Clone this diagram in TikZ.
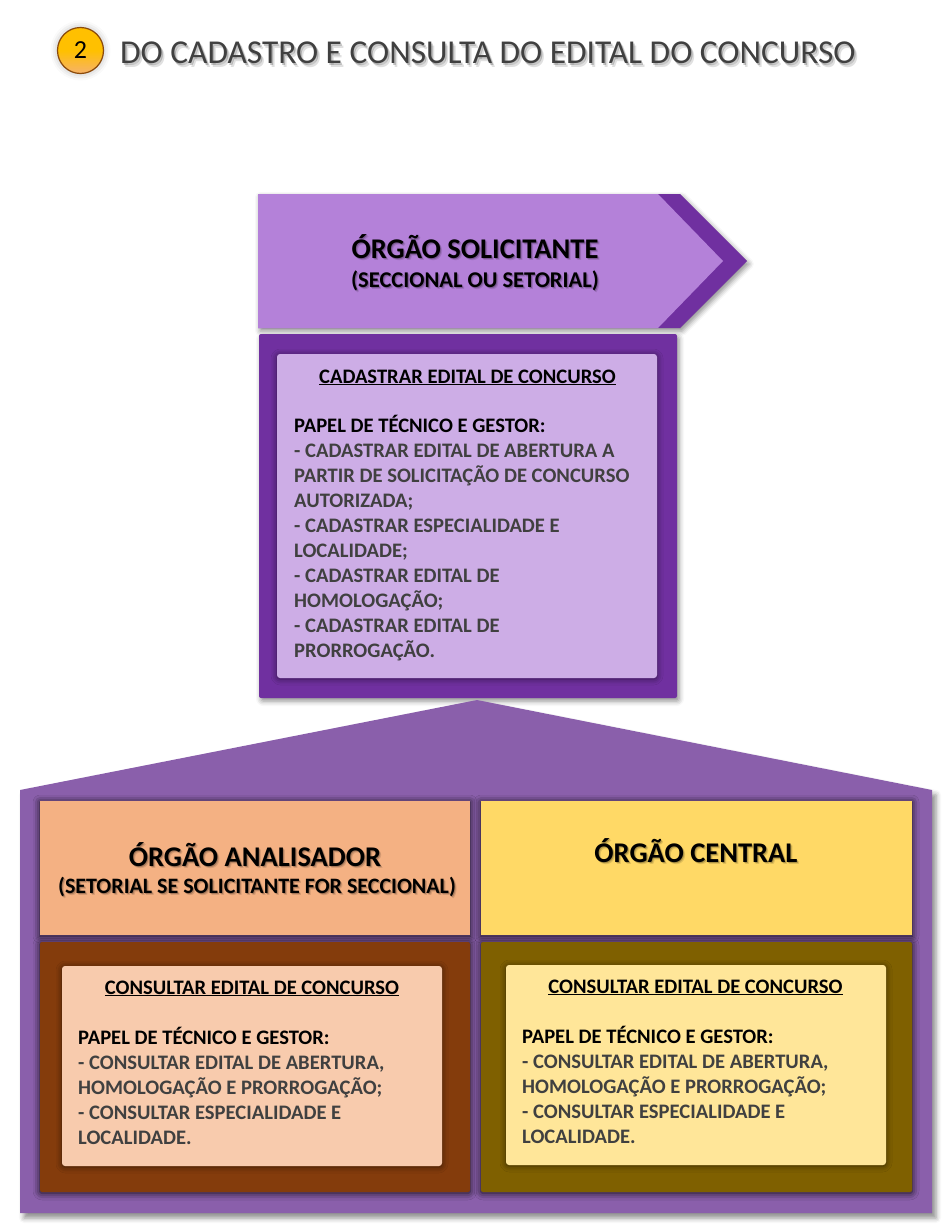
\documentclass[tikz,border=0pt]{standalone}
\usepackage{fontspec}
\setmainfont{Carlito}
\usetikzlibrary{shadows.blur}
\definecolor{pdark}{HTML}{7030A0}
\definecolor{plight}{HTML}{B481D9}
\definecolor{pinner}{HTML}{CDADE6}
\definecolor{house}{HTML}{8A5FAB}
\definecolor{orhdr}{HTML}{F4B183}
\definecolor{yehdr}{HTML}{FFD966}
\definecolor{brownbox}{HTML}{843C0C}
\definecolor{peach}{HTML}{F8CBAD}
\definecolor{olive}{HTML}{7F6000}
\definecolor{lyellow}{HTML}{FFE699}
\definecolor{txtgray}{HTML}{404040}
\definecolor{goldA}{HTML}{FFC000}
\definecolor{goldB}{HTML}{F6B26B}
\definecolor{goldrim}{HTML}{8B4A0B}
\newcommand{\nsp}{\spaceskip=0pt\xspaceskip=0pt\relax}
\begin{document}
\begin{tikzpicture}[x=1pt,y=-1pt,
  bshadow/.style={blur shadow={shadow xshift=2pt,shadow yshift=-3pt,shadow blur radius=5pt,shadow opacity=45}},
  ishadow/.style={blur shadow={shadow xshift=0pt,shadow yshift=-1pt,shadow blur radius=7pt,shadow opacity=90}},
  hdrbig/.style={font=\bfseries\fontsize{28.5}{32}\selectfont,anchor=base,inner sep=0pt},
  hdrsmall/.style={font=\bfseries\fontsize{22.5}{26}\selectfont,anchor=base,inner sep=0pt},
  tshadowA/.style={text=black,opacity=0.22},
  tshadowB/.style={text=black,opacity=0.12},
  boxtitle/.style={font=\bfseries\fontsize{20.6}{25}\selectfont,anchor=base,inner sep=0pt},
  boxbody/.style={font=\bfseries\fontsize{20.6}{25}\selectfont,anchor=base west,inner sep=0pt,text width=372pt,align=flush left,text=txtgray},
]
\useasboundingbox (0,0) rectangle (952,1229);

% ---- title ----
\node[circle,draw=goldrim,line width=1.2pt,top color=goldA,bottom color=goldB,middle color=goldA,minimum size=46pt,inner sep=0pt,
  blur shadow={shadow xshift=0pt,shadow yshift=0pt,shadow blur radius=7pt,shadow opacity=30},
  font=\fontsize{26}{28}\selectfont] (num) at (80.5,50.5) {2};
\node[font=\fontsize{33.4}{38}\selectfont,anchor=base west,inner sep=0pt,tshadowB] (titleS2) at (123,67) {DO CADASTRO E CONSULTA DO EDITAL DO CONCURSO};
\node[font=\fontsize{33.4}{38}\selectfont,anchor=base west,inner sep=0pt,tshadowA] (titleS) at (121.5,65) {DO CADASTRO E CONSULTA DO EDITAL DO CONCURSO};
\node[font=\fontsize{33.4}{38}\selectfont,anchor=base west,inner sep=0pt,text=txtgray] (title) at (120,63) {DO CADASTRO E CONSULTA DO EDITAL DO CONCURSO};

% ---- solicitante arrow ----
\path[fill=pdark,bshadow] (258,194) -- (680,194) -- (747,261) -- (680,328) -- (258,328) -- cycle;
\path[fill=plight] (258,194) -- (658,194) -- (723,261) -- (658,328) -- (258,328) -- cycle;
\node[hdrbig,tshadowB] (solAs2) at (477,260.5) {ÓRGÃO SOLICITANTE};
\node[hdrbig,tshadowA] (solAs) at (476,259.3) {ÓRGÃO SOLICITANTE};
\node[hdrbig] (solA) at (475,258) {ÓRGÃO SOLICITANTE};
\node[hdrsmall,tshadowB] (solBs2) at (477,289.5) {(SECCIONAL OU SETORIAL)};
\node[hdrsmall,tshadowA] (solBs) at (476,288.3) {(SECCIONAL OU SETORIAL)};
\node[hdrsmall] (solB) at (475,287) {(SECCIONAL OU SETORIAL)};

% ---- cadastrar box ----
\path[fill=pdark,rounded corners=2pt,bshadow] (259,334) rectangle (677,698);
\path[fill=pinner,rounded corners=3pt,blur shadow={shadow xshift=0pt,shadow yshift=-1pt,shadow blur radius=6pt,shadow opacity=55}] (277,354) rectangle (657,678);
\node[boxtitle] (cadT) at (467.5,383) {\underline{CADASTRAR EDITAL DE CONCURSO}};
\node[boxbody] (cadB) at (294,432) {\nsp\textcolor{black}{PAPEL DE TÉCNICO E GESTOR:}\\
- CADASTRAR EDITAL DE ABERTURA A\\
PARTIR DE SOLICITAÇÃO DE CONCURSO\\
AUTORIZADA;\\
- CADASTRAR ESPECIALIDADE E\\
LOCALIDADE;\\
- CADASTRAR EDITAL DE\\
HOMOLOGAÇÃO;\\
- CADASTRAR EDITAL DE\\
PRORROGAÇÃO.};

% ---- house ----
\path[fill=house,blur shadow={shadow xshift=4pt,shadow yshift=-5pt,shadow blur radius=5pt,shadow opacity=45}]
  (20,790) -- (477,700) -- (932,790) -- (932,1213) -- (20,1213) -- cycle;

% headers
\path[fill=orhdr,ishadow] (40,801) rectangle (470,935);
\path[fill=yehdr,ishadow] (481,801) rectangle (912,935);
\node[hdrbig,tshadowB] (anAs2) at (257,868.5) {ÓRGÃO ANALISADOR};
\node[hdrbig,tshadowA] (anAs) at (256,867.3) {ÓRGÃO ANALISADOR};
\node[hdrbig] (anA) at (255,866) {ÓRGÃO ANALISADOR};
\node[hdrsmall,tshadowB,font=\bfseries\fontsize{22}{26}\selectfont] (anBs2) at (259,895.5) {(SETORIAL SE SOLICITANTE FOR SECCIONAL)};
\node[hdrsmall,tshadowA,font=\bfseries\fontsize{22}{26}\selectfont] (anBs) at (258,894.3) {(SETORIAL SE SOLICITANTE FOR SECCIONAL)};
\node[hdrsmall,font=\bfseries\fontsize{22}{26}\selectfont] (anB) at (257,893) {(SETORIAL SE SOLICITANTE FOR SECCIONAL)};
\node[hdrbig,tshadowB] (ceAs2) at (698,864.5) {ÓRGÃO CENTRAL};
\node[hdrbig,tshadowA] (ceAs) at (697,863.3) {ÓRGÃO CENTRAL};
\node[hdrbig] (ceA) at (696,862) {ÓRGÃO CENTRAL};

% bottom boxes
\path[fill=brownbox,rounded corners=2pt,ishadow] (40,942) rectangle (470,1192);
\path[fill=olive,rounded corners=2pt,ishadow] (481,942) rectangle (912,1192);
\path[fill=peach,rounded corners=3pt,blur shadow={shadow xshift=0pt,shadow yshift=-1pt,shadow blur radius=6pt,shadow opacity=55}] (62,966) rectangle (442,1166);
\path[fill=lyellow,rounded corners=3pt,blur shadow={shadow xshift=0pt,shadow yshift=-1pt,shadow blur radius=6pt,shadow opacity=55}] (506,965) rectangle (886,1165);

\node[boxtitle] (anT) at (252,994) {\underline{CONSULTAR EDITAL DE CONCURSO}};
\node[boxbody] (anBody) at (78,1044) {\nsp\textcolor{black}{PAPEL DE TÉCNICO E GESTOR:}\\
- CONSULTAR EDITAL DE ABERTURA,\\
HOMOLOGAÇÃO E PRORROGAÇÃO;\\
- CONSULTAR ESPECIALIDADE E\\
LOCALIDADE.};
\node[boxtitle] (ceT) at (695.5,993) {\underline{CONSULTAR EDITAL DE CONCURSO}};
\node[boxbody] (ceBody) at (522,1043) {\nsp\textcolor{black}{PAPEL DE TÉCNICO E GESTOR:}\\
- CONSULTAR EDITAL DE ABERTURA,\\
HOMOLOGAÇÃO E PRORROGAÇÃO;\\
- CONSULTAR ESPECIALIDADE E\\
LOCALIDADE.};
\end{tikzpicture}
\end{document}
